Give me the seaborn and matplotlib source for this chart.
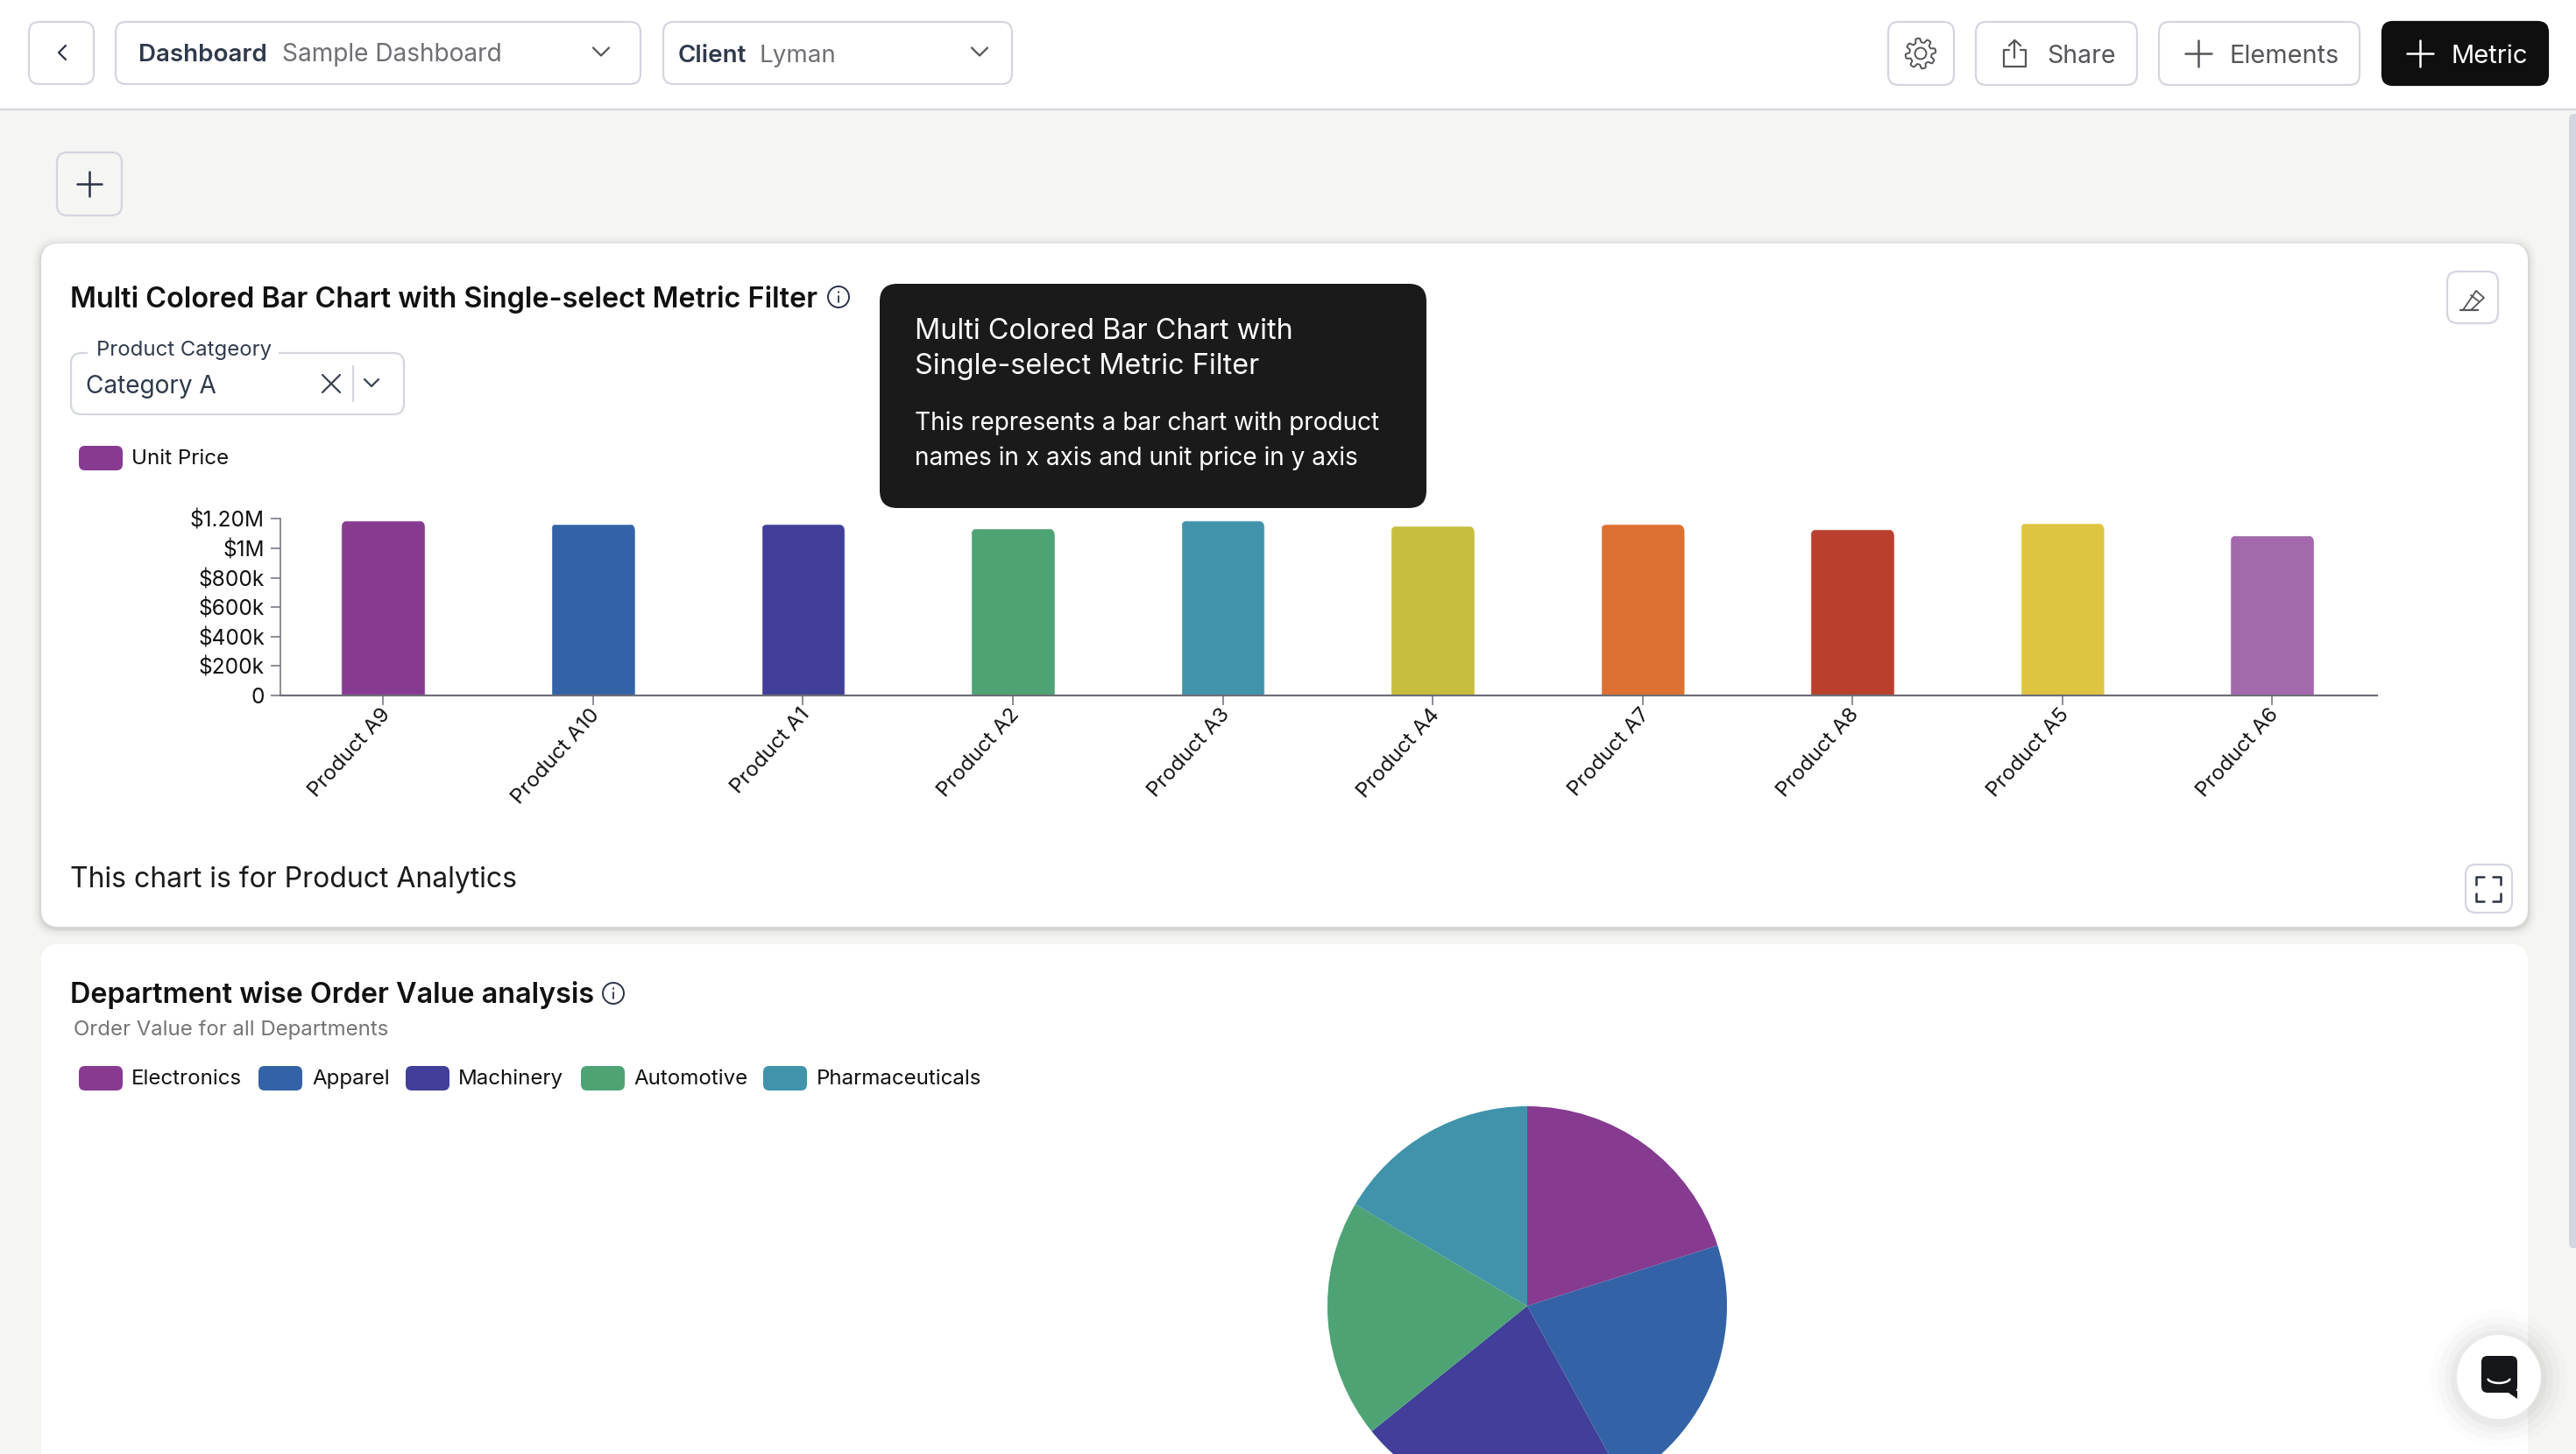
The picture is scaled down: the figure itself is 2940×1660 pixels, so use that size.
import numpy as np
import pandas as pd
import matplotlib
matplotlib.use("Agg")
import matplotlib.pyplot as plt
import seaborn as sns
from matplotlib.patches import FancyBboxPatch, Circle, Polygon
from matplotlib.transforms import ScaledTranslation

# bar chart values
products = ["Product A9", "Product A10", "Product A1", "Product A2", "Product A3",
            "Product A4", "Product A7", "Product A8", "Product A5", "Product A6"]
unit_price = [1190000, 1170000, 1165000, 1137000, 1189000,
              1155000, 1165000, 1131000, 1173000, 1090000]
bar_colors = ["#863B91", "#3363A6", "#413F99", "#4EA375", "#4093AB",
              "#C7BE40", "#DD7132", "#BA3F2C", "#DFC441", "#A369AC"]
y_ticks = [0, 200000, 400000, 600000, 800000, 1000000, 1200000]
y_tick_labels = ["0", "$200k", "$400k", "$600k", "$800k", "$1M", "$1.20M"]

# pie values
departments = ["Electronics", "Apparel", "Machinery", "Automotive", "Pharmaceuticals"]
order_value = [20.1, 21.9, 22.2, 19.3, 16.5]
pie_colors = ["#863B91", "#3363A6", "#413F99", "#4EA375", "#4093AB"]

W, H = 2940, 1660
BORDER = "#D3D6DE"
INK = "#111111"

sns.set_theme(style="white")
plt.rcParams["font.family"] = ["Inter", "DejaVu Sans"]

fig = plt.figure(figsize=(W / 100, H / 100), dpi=100, facecolor="#F5F5F3")


def px_axes(x0, y0, x1, y1, zorder):
    # axes placed by pixel box, y measured from the top
    return fig.add_axes([x0 / W, 1 - y1 / H, (x1 - x0) / W, (y1 - y0) / H], zorder=zorder)


ui = px_axes(0, 0, W, H, 1)
ui.set_xlim(0, W)
ui.set_ylim(H, 0)
ui.axis("off")


def box(x0, y0, x1, y1, r=12, fc="white", ec=BORDER, lw=1.6, z=2, alpha=None):
    p = FancyBboxPatch((x0, y0), x1 - x0, y1 - y0, boxstyle=f"round,pad=0,rounding_size={r}",
                       fc=fc, ec=ec, lw=lw, zorder=z, alpha=alpha)
    ui.add_patch(p)
    return p


def label(x, y, s, size=19, color=INK, weight="normal", ha="left", z=5):
    ui.text(x, y, s, fontsize=size, color=color, fontweight=weight, ha=ha, va="center_baseline", zorder=z)


def line(xs, ys, color="#55555A", lw=1.6, z=5):
    ui.plot(xs, ys, color=color, lw=lw, zorder=z, solid_capstyle="round", solid_joinstyle="round")


def chevron(x, y, s=9, color="#55555A"):
    line([x - s, x, x + s], [y - s / 2, y + s / 2, y - s / 2], color=color)


def plus(x, y, s=15, color="#55555A", lw=1.8):
    line([x - s, x + s], [y, y], color=color, lw=lw)
    line([x, x], [y - s, y + s], color=color, lw=lw)


def info(x, y, r=12):
    ui.add_patch(Circle((x, y), r, fc="none", ec="#2B3245", lw=1.4, zorder=5))
    line([x, x], [y - 1, y + 6], color="#2B3245", lw=1.3)
    line([x, x], [y - 6, y - 5], color="#2B3245", lw=1.3)


# header bar
ui.fill_between([0, W], 0, 125, color="white", zorder=1, lw=0)
line([0, W], [125.5, 125.5], color=BORDER, lw=1.5, z=2)

box(33, 25, 107, 96)
line([75, 67, 75], [52, 60, 68], color="#2B3245")
box(132, 25, 731, 96)
label(158, 60, "Dashboard", size=20, color="#2F3A4C", weight="semibold")
label(322, 60, "Sample Dashboard", size=20.2, color="#6F6F75")
chevron(686, 59)
box(757, 25, 1155, 96)
label(774, 61, "Client", size=20, color="#2F3A4C", weight="semibold")
label(867, 61, "Lyman", size=20, color="#6F6F75")
chevron(1118, 59)

box(2155, 25, 2230, 97)
# gear icon
ang = np.linspace(0, 2 * np.pi, 145)
rad = 15 + 2.4 * np.tanh(3 * np.sin(8 * ang))
ui.plot(2192 + rad * np.sin(ang), 61 + rad * np.cos(ang), color="#55555A", lw=1.4, zorder=5)
ui.add_patch(Circle((2192, 61), 6.5, fc="none", ec="#55555A", lw=1.4, zorder=5))

box(2255, 25, 2439, 97)
line([2293, 2287, 2287, 2312, 2312, 2306], [57, 57, 76, 76, 57, 57])
line([2299.5, 2299.5], [46, 66])
line([2293, 2299.5, 2306], [52, 46, 52])
label(2336, 61, "Share", size=20.5, color="#55555A")

box(2464, 25, 2693, 97)
plus(2509, 61)
label(2545, 61, "Elements", size=20.8, color="#55555A")

box(2719, 25, 2908, 97, fc="#0F0F0F", ec="#0F0F0F")
plus(2762, 61, color="white")
label(2798, 61, "Metric", size=21, color="white")

box(65, 174, 139, 246, fc="#F5F5F3")
plus(102, 210, s=14, color="#2B3245")

# cards, first one with a soft shadow
for grow, a in zip([10, 7, 4, 2], [0.015, 0.025, 0.035, 0.05]):
    box(47 - grow, 278 - grow + 2, 2885 + grow, 1058 + grow + 2, r=20 + grow, fc="black", ec="none", lw=0, z=1.5, alpha=a)
box(47, 278, 2885, 1058, r=20, ec="none", lw=0, z=2)
box(47, 1078, 2885, 1720, r=20, ec="none", lw=0, z=2)

# card 1 header and controls
label(80, 339, "Multi Colored Bar Chart with Single-select Metric Filter", size=23.35, weight="semibold")
info(957, 339)
box(81, 403, 461, 473)
ui.fill_between([100, 318], 395, 408, color="white", zorder=3, lw=0)
label(110, 397, "Product Catgeory", size=17.2, color="#2F3A4C")
label(98, 438, "Category A", size=20.2, color="#2F3A4C")
line([368, 388], [428, 448], color="#3A4150")
line([368, 388], [448, 428], color="#3A4150")
line([403, 403], [418, 458], color=BORDER)
chevron(424, 437, s=8, color="#3A4150")
box(90, 509, 140, 537, r=7, fc=bar_colors[0], ec="none", lw=0)
label(150, 521.5, "Unit Price", size=17.4)

box(2793, 310, 2851, 369)
line([2808, 2828], [354, 354])
line([2811, 2826, 2835, 2820, 2811], [354, 332, 340, 354, 354], lw=1.3)
line([2820, 2829], [337, 344], lw=1.3)

label(80, 1001, "This chart is for Product Analytics", size=23, color="#1A1A1A")
box(2814, 987, 2867, 1042)
for sx, sy in [(-1, -1), (1, -1), (-1, 1), (1, 1)]:
    cx, cy = 2840.5 + sx * 14, 1014.5 + sy * 14
    line([cx - sx * 9, cx, cx], [cy, cy, cy - sy * 9], color="#2B3245", lw=1.8)

# tooltip
box(1004, 324, 1628, 580, r=20, fc="#1A1A1A", ec="none", lw=0, z=6)
ui.text(1044, 375, "Multi Colored Bar Chart with", fontsize=23.3, color="white", va="center_baseline", zorder=7)
ui.text(1044, 415, "Single-select Metric Filter", fontsize=23.3, color="white", va="center_baseline", zorder=7)
ui.text(1044, 480, "This represents a bar chart with product", fontsize=20.15, color="white", va="center_baseline", zorder=7)
ui.text(1044, 520, "names in x axis and unit price in y axis", fontsize=20.15, color="white", va="center_baseline", zorder=7)

# card 2 header and legend
label(80, 1132.5, "Department wise Order Value analysis", size=23.3, weight="semibold")
info(700, 1134)
label(84, 1173, "Order Value for all Departments", size=17.25, color="#747474")
swatch_x = [90, 295, 463, 663, 871]
text_x = [150, 356, 523, 723, 932]
for name, col, sx, tx in zip(departments, pie_colors, swatch_x, text_x):
    box(sx, 1217, sx + 50, 1245, r=7, fc=col, ec="none", lw=0)
    label(tx, 1229.5, name, size=17.35)

# scrollbar
box(2932, 130, 2950, 1425, r=6, fc=BORDER, ec="none", lw=0, z=2)

# chat launcher
for grow, a in zip([30, 22, 14, 7], [0.012, 0.018, 0.025, 0.03]):
    ui.add_patch(Circle((2852, 1574), 48 + grow, fc="black", ec="none", alpha=a, zorder=6))
ui.add_patch(Circle((2852, 1572), 48, fc="white", ec="none", zorder=7))
box(2832, 1548, 2873, 1590, r=7, fc="#15171A", ec="none", lw=0, z=8)
ui.add_patch(Polygon([[2860, 1588], [2873, 1588], [2873, 1597]], fc="#15171A", ec="none", zorder=8))
ui.plot(2852 + 13 * np.cos(np.linspace(0.3, np.pi - 0.3, 20)), 1573 + 6 * np.sin(np.linspace(0.3, np.pi - 0.3, 20)),
        color="white", lw=1.8, zorder=9)

# bar chart
df = pd.DataFrame({"product": products, "unit_price": unit_price})
ax = px_axes(320, 592.5, 2713, 794, 3)
ax.patch.set_alpha(0)
sns.barplot(data=df, x="product", y="unit_price", hue="product", palette=bar_colors,
            dodge=False, legend=False, saturation=1, width=0.4, ax=ax)
ax.set_xlim(-0.49, 9.5)
ax.set_ylim(0, 1200000)
ax.set_xlabel("")
ax.set_ylabel("")
ax.set_yticks(y_ticks)
ax.set_yticklabels(y_tick_labels)
ax.tick_params(axis="y", length=8, width=1.1, color="#6E6E78", labelsize=17.6, pad=5, labelcolor=INK, left=True)
ax.tick_params(axis="x", length=8, width=1.1, color="#6E6E78", labelsize=17.3, pad=2, labelcolor=INK, bottom=True)
# labels sit a little closer to their ticks than the default anchor
nudge = ScaledTranslation(-4 / 100, 3 / 100, fig.dpi_scale_trans)
for lab in ax.get_xticklabels():
    lab.set_rotation(48)
    lab.set_ha("right")
    lab.set_rotation_mode("anchor")
    lab.set_transform(lab.get_transform() + nudge)
sns.despine(ax=ax)
ax.spines["left"].set_color("#6E6E78")
ax.spines["left"].set_linewidth(1.1)
ax.spines["bottom"].set_color("#6E6E78")
ax.spines["bottom"].set_linewidth(1.6)

# round only the top corners of each bar
x_per_px = 9.99 / (2713 - 320)
y_per_px = 1200000 / (794 - 592.5)
for bar in ax.patches:
    clip = FancyBboxPatch((bar.get_x(), -200000), bar.get_width(), bar.get_height() + 200000,
                          boxstyle=f"round,pad=0,rounding_size={9 * x_per_px}",
                          mutation_aspect=y_per_px / x_per_px, transform=ax.transData)
    bar.set_clip_path(clip)

# pie chart, runs off the bottom of the page
pie_ax = px_axes(1515, 1263, 1971, 1719, 3)
pie_ax.pie(order_value, colors=pie_colors, startangle=90, counterclock=False, radius=1,
           wedgeprops={"linewidth": 0})
pie_ax.set_xlim(-1, 1)
pie_ax.set_ylim(-1, 1)

fig.savefig("out.png", dpi=100, facecolor=fig.get_facecolor())
